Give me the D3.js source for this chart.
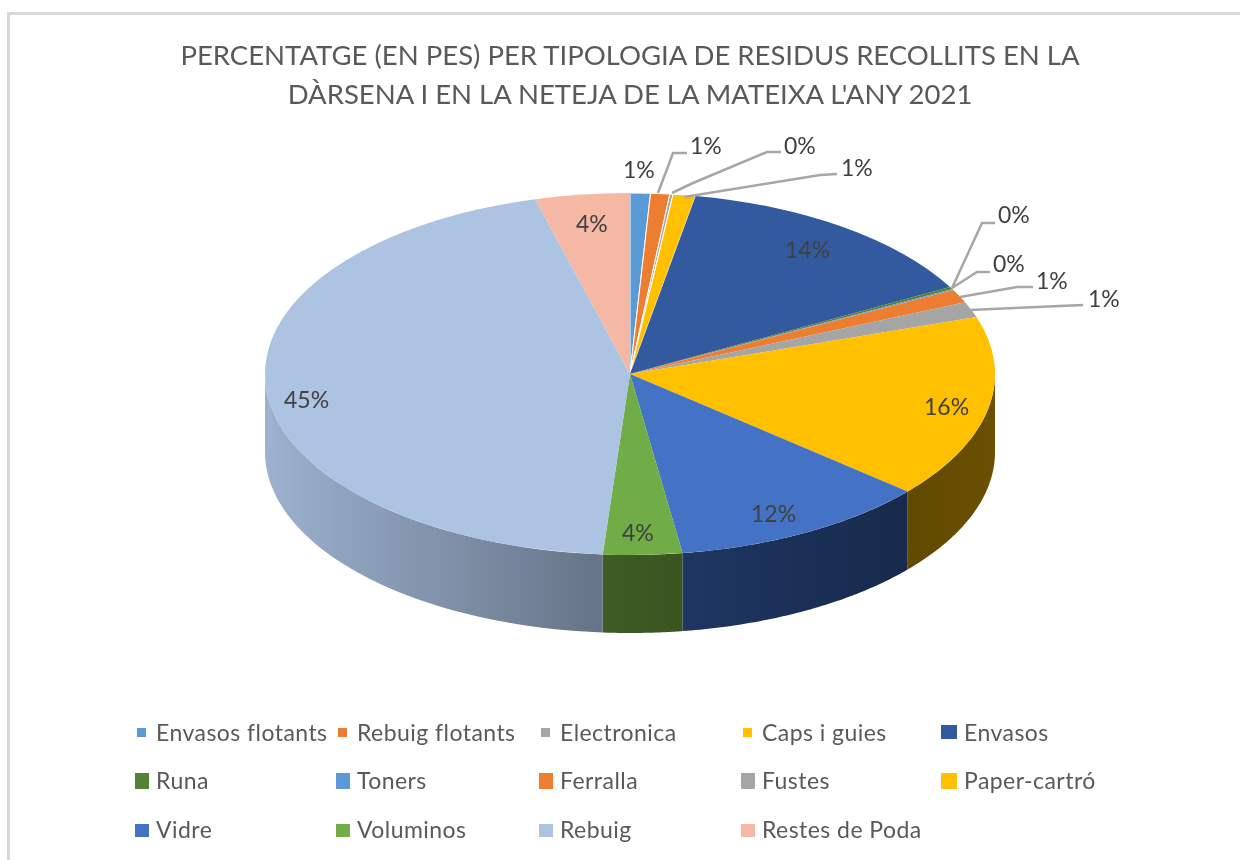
<!DOCTYPE html>
<meta charset="utf-8">
<style>
    body { margin: 0; background: #fff; }
    svg { display: block; filter: blur(0.45px); }
    text { font-family: Lato, "Open Sans", sans-serif; }
    .title { font-size: 27.5px; fill: #595959; text-anchor: middle; }
    .pct { font-size: 23px; fill: #404040; dominant-baseline: middle; }
    .leg { font-size: 23px; fill: #595959; dominant-baseline: middle; letter-spacing: 0.45px; }
    .leader { fill: none; stroke: #a6a6a6; stroke-width: 2.5px; }
</style>

<body>
    <script src="https://d3js.org/d3.v7.min.js"></script>
    <script>
        var categories = ["Envasos flotants", "Rebuig flotants", "Electronica", "Caps i guies", "Envasos", "Runa", "Toners", "Ferralla", "Fustes", "Paper-cartró", "Vidre", "Voluminos", "Rebuig", "Restes de Poda"];
        var percents = [0.9, 0.85, 0.14, 1.0, 14.2, 0.2, 0.1, 1.2, 1.4, 16.4, 11.5, 3.5, 44.8, 4.2];
        var colors = ["#5b9bd5", "#ed7d31", "#a5a5a5", "#ffc000", "#335a9e", "#548235", "#5b9bd5", "#ed7d31", "#a5a5a5", "#ffc000", "#4472c4", "#70ad47", "#adc3e2", "#f4b8a4"];
        var titleLines = ["PERCENTATGE (EN PES) PER TIPOLOGIA DE RESIDUS RECOLLITS EN LA", "DÀRSENA I EN LA NETEJA DE LA MATEIXA L'ANY 2021"];

        var width = 1240,
            height = 860,
            cx = 630,
            cy = 374,
            rx = 365,
            ry = 181,
            depth = 78;

        // where Excel put each label, same order as categories; no leader for labels on the slice
        var labelAt = [
            { x: 623, y: 172 },
            { x: 690, y: 148, leader: [[658, 193], [673, 153], [687, 153]] },
            { x: 784, y: 148, leader: [[672, 193], [693, 183], [767, 152], [781, 152]] },
            { x: 841, y: 170, leader: [[684, 197], [820, 175], [837, 174]] },
            { x: 785, y: 252 },
            { x: 998, y: 217, leader: [[952, 288], [982, 223], [995, 223]] },
            { x: 993, y: 266, leader: [[952, 288], [977, 272], [990, 272]] },
            { x: 1036, y: 283, leader: [[960, 297], [1017, 287], [1033, 287]] },
            { x: 1088, y: 301, leader: [[970, 310], [1083, 305]] },
            { x: 924, y: 409 },
            { x: 751, y: 516 },
            { x: 622, y: 535 },
            { x: 284, y: 402 },
            { x: 576, y: 226 }
        ];

        // side wall shades, first colour at the clockwise start of the wall
        var wallShades = {
            "Paper-cartró": ["#6a5000", "#614900"],
            "Vidre": ["#172a4c", "#1e3661"],
            "Voluminos": ["#3a5420", "#3f5c24"],
            "Rebuig": ["#667386", "#9db2cf"]
        };

        var legendCols = [156, 357, 560, 762, 964];
        var legendRows = [733, 781, 830];

        var svg = d3.select("body").append("svg")
            .attr("width", width)
            .attr("height", height);

        // frame, only top and left survive in the screenshot
        svg.append("path")
            .attr("d", "M8.5,860V13.5H1240")
            .attr("fill", "none")
            .attr("stroke", "#d9d9d9")
            .attr("stroke-width", 3);

        svg.selectAll("text.title")
            .data(titleLines)
            .enter().append("text")
            .attr("class", "title")
            .attr("x", 630)
            .attr("y", (d, i) => 65 + i * 39)
            .text((d) => d);

        var pie = d3.pie().sort(null).value((d) => d);
        var slices = pie(percents);

        var xAt = (a) => cx + rx * Math.sin(a);
        var yAt = (a) => cy - ry * Math.cos(a);

        var defs = svg.append("defs");

        // walls
        var front = slices.filter((d) => d.endAngle > Math.PI / 2 && d.startAngle < Math.PI * 1.5);
        front.forEach(function (d) {
            var a0 = Math.max(d.startAngle, Math.PI / 2);
            var a1 = Math.min(d.endAngle, Math.PI * 1.5);
            var steps = d3.range(0, 61).map((i) => a0 + (a1 - a0) * i / 60);
            var top = steps.map((a) => [xAt(a), yAt(a)]);
            var bottom = steps.slice().reverse().map((a) => [xAt(a), yAt(a) + depth]);
            var shade = wallShades[categories[d.index]];
            var id = "wall" + d.index;

            var grad = defs.append("linearGradient")
                .attr("id", id)
                .attr("gradientUnits", "userSpaceOnUse")
                .attr("x1", xAt(a0)).attr("x2", xAt(a1))
                .attr("y1", 0).attr("y2", 0);
            grad.append("stop").attr("offset", 0).attr("stop-color", shade[0]);
            grad.append("stop").attr("offset", 1).attr("stop-color", shade[1]);

            svg.append("path")
                .attr("d", d3.line()(top.concat(bottom)) + "Z")
                .attr("fill", "url(#" + id + ")");
        });

        // top face: a circular d3.arc squashed to the ellipse
        // only the thin slices at the top have a visible white gap
        var arc = d3.arc().innerRadius(0).outerRadius(rx);
        svg.append("g")
            .attr("transform", "translate(" + cx + "," + cy + ") scale(1," + (ry / rx) + ")")
            .selectAll("path")
            .data(slices)
            .enter().append("path")
            .attr("d", arc)
            .attr("fill", (d) => colors[d.index])
            .attr("stroke", (d) => (d.index < 4 ? "#fff" : "none"))
            .attr("stroke-width", 1)
            .attr("vector-effect", "non-scaling-stroke");

        // labels
        svg.selectAll("path.leader")
            .data(labelAt.filter((d) => d.leader))
            .enter().append("path")
            .attr("class", "leader")
            .attr("d", (d) => d3.line()(d.leader));

        svg.selectAll("text.pct")
            .data(slices)
            .enter().append("text")
            .attr("class", "pct")
            .attr("x", (d) => labelAt[d.index].x)
            .attr("y", (d) => labelAt[d.index].y)
            .text((d) => Math.round(d.value) + "%");

        // legend
        var legend = svg.selectAll("g.legend")
            .data(categories)
            .enter().append("g")
            .attr("class", "legend")
            .attr("transform", function (d, i) {
                return "translate(" + legendCols[i % 5] + "," + legendRows[Math.floor(i / 5)] + ")";
            });

        // the markers are not all one size in the reference: small in row one, wide in the last column
        function marker(i) {
            var col = i % 5, row = Math.floor(i / 5);
            if (row == 0 && col < 4) return { x: -19, y: -5, w: 9, h: 9 };
            return {
                x: col == 4 ? -23 : -21,
                y: row == 2 ? -6 : -8,
                w: col == 4 ? 16 : 14,
                h: row == 0 ? 14 : row == 1 ? 16 : 13
            };
        }

        legend.append("rect")
            .attr("x", (d, i) => marker(i).x)
            .attr("y", (d, i) => marker(i).y)
            .attr("width", (d, i) => marker(i).w)
            .attr("height", (d, i) => marker(i).h)
            .attr("fill", (d, i) => colors[i]);

        legend.append("text")
            .attr("class", "leg")
            .attr("y", 2)
            .text((d) => d);
    </script>
</body>
